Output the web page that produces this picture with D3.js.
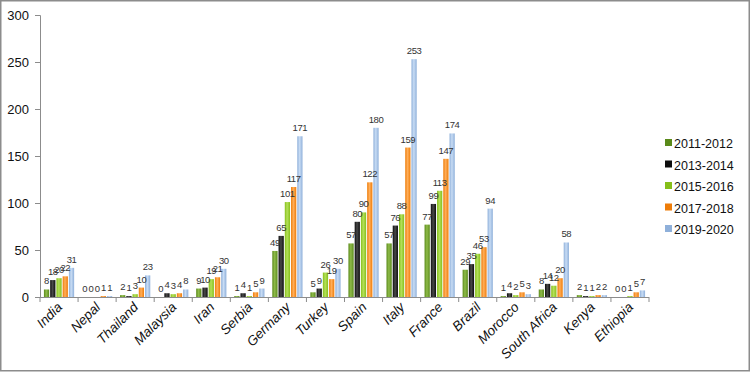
<!DOCTYPE html>
<html>
<head>
<meta charset="utf-8">
<script src="https://cdn.jsdelivr.net/npm/d3@7/dist/d3.min.js"></script>
<style>
  body { margin: 0; background: #fff; }
  svg { font-family: "Liberation Sans", Arial, sans-serif; }
</style>
</head>
<body>
<script>
// categories and series
var countries = ["India", "Nepal", "Thailand", "Malaysia", "Iran", "Serbia", "Germany", "Turkey",
                 "Spain", "Italy", "France", "Brazil", "Morocco", "South Africa", "Kenya", "Ethiopia"];
var periods = ["2011-2012", "2013-2014", "2015-2016", "2017-2018", "2019-2020"];

var v2011 = [8, 0, 2, 0, 9, 1, 49, 5, 57, 57, 77, 29, 1, 8, 2, 0];
var v2013 = [18, 0, 1, 4, 10, 4, 65, 9, 80, 76, 99, 35, 4, 14, 1, 0];
var v2015 = [20, 0, 3, 3, 19, 1, 101, 26, 90, 88, 113, 46, 2, 12, 1, 1];
var v2017 = [22, 1, 10, 4, 21, 5, 117, 19, 122, 159, 147, 53, 5, 20, 2, 5];
var v2019 = [31, 1, 23, 8, 30, 9, 171, 30, 180, 253, 174, 94, 3, 58, 2, 7];
var yTicks = [0, 50, 100, 150, 200, 250, 300];

var series = [v2011, v2013, v2015, v2017, v2019];
var colors = ["#5a8a1a", "#0d0d0d", "#86bf1a", "#ee7c08", "#8fb0da"];
var lights = ["#8fbb4a", "#4a4a4a", "#b4e05a", "#ffae5a", "#c8dcf4"];

var width = 750, height = 373;
var svg = d3.select("body").append("svg")
    .attr("width", width)
    .attr("height", height);

// gradients to mimic the shaded bars
var defs = svg.append("defs");
colors.forEach(function(c, i) {
    var g = defs.append("linearGradient").attr("id", "grad" + i)
        .attr("x1", "0%").attr("x2", "100%").attr("y1", "0%").attr("y2", "0%");
    g.append("stop").attr("offset", "0%").attr("stop-color", c);
    g.append("stop").attr("offset", "45%").attr("stop-color", lights[i]);
    g.append("stop").attr("offset", "100%").attr("stop-color", c);
});

// outer frame
svg.append("rect")
    .attr("x", 0.75).attr("y", 0.75)
    .attr("width", width - 1.5).attr("height", height - 3)
    .attr("fill", "none").attr("stroke", "#8c8c8c").attr("stroke-width", 1.5);

var x = d3.scaleBand().domain(countries).range([40, 649]).paddingInner(0.18).paddingOuter(0.09);
var xi = d3.scaleBand().domain(d3.range(periods.length)).range([0, x.bandwidth()]);
var y = d3.scaleLinear().domain([0, 300]).range([297, 15]);

// y axis
var yAxis = svg.append("g").attr("transform", "translate(40,0)")
    .call(d3.axisLeft(y).tickValues(yTicks).tickSize(5).tickPadding(6));
yAxis.select(".domain").attr("stroke", "#8c8c8c");
yAxis.selectAll(".tick line").attr("stroke", "#8c8c8c");
yAxis.selectAll("text").attr("font-size", 13).attr("fill", "#111")
    .attr("font-family", "Liberation Sans, Arial, sans-serif");

// x axis line and separator ticks
svg.append("line").attr("x1", 40).attr("x2", 649).attr("y1", 297.5).attr("y2", 297.5)
    .attr("stroke", "#8c8c8c");
svg.selectAll(".sep").data(d3.range(countries.length + 1)).enter().append("line")
    .attr("x1", function(i) { return 40 + i * x.step(); })
    .attr("x2", function(i) { return 40 + i * x.step(); })
    .attr("y1", 297).attr("y2", 302)
    .attr("stroke", "#8c8c8c");

// category labels
svg.selectAll(".cat").data(countries).enter().append("text")
    .attr("transform", function(d) {
        return "translate(" + (x(d) + x.bandwidth() / 2 + 4) + ",308) rotate(-45)";
    })
    .attr("text-anchor", "end")
    .attr("font-size", 13.5)
    .attr("font-style", "italic")
    .attr("fill", "#111")
    .text(function(d) { return d; });

// bars first, then every value label on top
var barLayer = svg.append("g");
var labelLayer = svg.append("g");
series.forEach(function(vals, s) {
    barLayer.append("g").selectAll("rect").data(vals).enter().append("rect")
        .attr("x", function(d, i) { return x(countries[i]) + xi(s) + 0.5; })
        .attr("y", function(d) { return y(d); })
        .attr("width", xi.bandwidth() - 1)
        .attr("height", function(d) { return 297 - y(d); })
        .attr("fill", "url(#grad" + s + ")");
    labelLayer.append("g").selectAll("text").data(vals).enter().append("text")
        .attr("x", function(d, i) { return x(countries[i]) + xi(s) + xi.bandwidth() / 2; })
        .attr("y", function(d) { return y(d) - 5; })
        .attr("text-anchor", "middle")
        .attr("font-size", 9.5)
        .attr("letter-spacing", -0.4)
        .attr("fill", "#333")
        .text(function(d) { return d; });
});

// legend
var legend = svg.selectAll(".leg").data(periods).enter().append("g")
    .attr("transform", function(d, i) { return "translate(665," + (143 + i * 21.5) + ")"; });
legend.append("rect")
    .attr("x", 0).attr("y", -4).attr("width", 7).attr("height", 7)
    .attr("fill", function(d, i) { return colors[i]; });
legend.append("text")
    .attr("x", 9).attr("y", 5)
    .attr("font-size", 12.5)
    .attr("fill", "#111")
    .text(function(d) { return d; });
</script>
</body>
</html>
